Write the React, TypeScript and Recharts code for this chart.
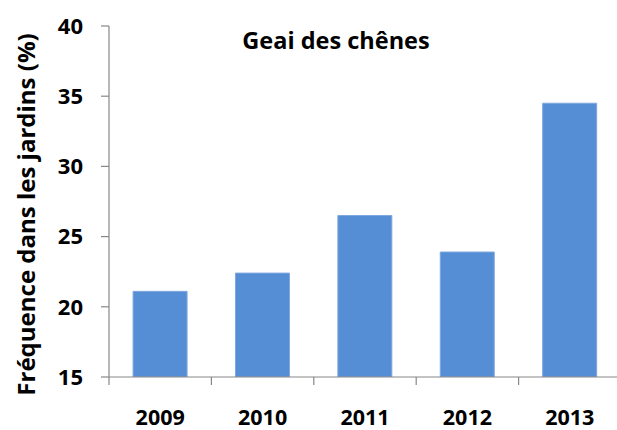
import React from 'react';
import { BarChart, Bar, XAxis, YAxis } from 'recharts';

const years = ['2009', '2010', '2011', '2012', '2013'];
const frequence = [21.1, 22.4, 26.5, 23.9, 34.5];
const yTicks = [15, 20, 25, 30, 35, 40];

const data = years.map((y, i) => ({ year: y, value: frequence[i] }));

const FONT = '"Open Sans", sans-serif';
const AXIS = '#888888';
const FS = 22;

const XTick = (props: any) => {
  const { x, y, payload, index } = props;
  const off = payload && payload.offset ? payload.offset : 0;
  return (
    <g>
      <line x1={x - off} y1={y} x2={x - off} y2={y + 8} stroke={AXIS} strokeWidth={1.2} />
      {index === years.length - 1 && (
        <line x1={x + off} y1={y} x2={x + off} y2={y + 8} stroke={AXIS} strokeWidth={1.2} />
      )}
      <text
        x={x}
        y={y + 39}
        textAnchor="middle"
        dominantBaseline="central"
        fontFamily={FONT}
        fontWeight={700}
        fontSize={21.5}
        fill="#000"
      >
        {payload.value}
      </text>
    </g>
  );
};

const YLabel = (props: any) => {
  const vb = props.viewBox || { x: 0, y: 0, width: 0, height: 0 };
  const cx = vb.x + 25;
  const cy = vb.y + vb.height / 2 + 13;
  return (
    <text
      x={cx}
      y={cy}
      transform={`rotate(-90, ${cx}, ${cy})`}
      textAnchor="middle"
      dominantBaseline="central"
      fontFamily={FONT}
      fontWeight={700}
      fontSize={24}
      fill="#000"
    >
      Fréquence dans les jardins (%)
    </text>
  );
};

export default function App() {
  return (
    <div style={{ position: 'absolute', left: 0, top: 0, width: 617, height: 430, background: '#fff' }}>
      <BarChart
        width={617}
        height={430}
        data={data}
        margin={{ top: 26, right: -4, bottom: 0, left: 0 }}
        barCategoryGap="23.5%"
      >
        <XAxis
          dataKey="year"
          height={53}
          tickLine={false}
          tickSize={0}
          tickMargin={0}
          axisLine={{ stroke: AXIS, strokeWidth: 1.2 }}
          tick={<XTick />}
          interval={0}
        />
        <YAxis
          width={109}
          domain={[15, 40]}
          ticks={yTicks}
          allowDataOverflow
          tickSize={8}
          tickMargin={18}
          tickLine={{ stroke: AXIS, strokeWidth: 1.2 }}
          axisLine={{ stroke: AXIS, strokeWidth: 1.2 }}
          tick={{ fontFamily: FONT, fontWeight: 700, fontSize: FS, fill: '#000' }}
          label={<YLabel />}
        />
        <Bar dataKey="value" fill="#558ED5" stroke="#7FA8DE" strokeWidth={1} isAnimationActive={false} />
      </BarChart>
      <div
        style={{
          position: 'absolute',
          left: 336,
          top: 24,
          transform: 'translateX(-50%)',
          whiteSpace: 'nowrap',
          fontFamily: FONT,
          fontWeight: 700,
          fontSize: 23.5,
          lineHeight: '32px',
          color: '#000',
        }}
      >
        Geai des chênes
      </div>
    </div>
  );
}
